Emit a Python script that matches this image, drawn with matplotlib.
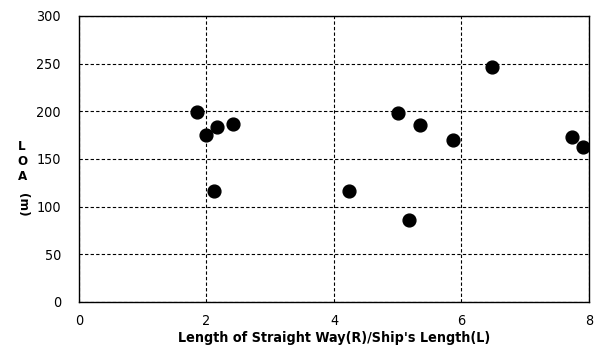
import matplotlib
matplotlib.use("Agg")
import matplotlib.pyplot as plt

ratio = [1.85, 2.00, 2.16, 2.41, 2.12, 4.24, 5.01, 5.35, 5.18, 5.86, 6.48, 7.74, 7.90]
loa = [199, 175, 184, 187, 116, 116, 198, 186, 86, 170, 246, 173, 163]
xticks = [0, 2, 4, 6, 8]
yticks = [0, 50, 100, 150, 200, 250, 300]

plt.rcParams['font.family'] = ['DejaVu Sans']
plt.rcParams['font.stretch'] = 'condensed'

fig = plt.figure(figsize=(5.97, 3.55), dpi=100)
ax = fig.add_axes([0.1323, 0.1493, 0.8543, 0.8057])
ax.scatter(ratio, loa, s=85, color='black', zorder=3)
ax.set_xlim(0, 8)
ax.set_ylim(0, 300)
ax.set_xticks(xticks)
ax.set_yticks(yticks)
for lab in ax.get_xticklabels() + ax.get_yticklabels():
    lab.set_fontstretch('condensed')
ax.tick_params(length=0, labelsize=10.3, pad=13)
ax.tick_params(axis='x', pad=9)
ax.grid(True, color='black', linestyle=(0, (3, 2)), linewidth=0.8)
for s in ax.spines.values():
    s.set_linewidth(1.0)
    s.set_color('black')
ax.set_xlabel("Length of Straight Way(R)/Ship's Length(L)", fontsize=10.3, fontweight='bold',
              fontstretch='condensed', labelpad=2)
fig.text(0.037, 0.544, "L\nO\nA", fontsize=9.5, fontweight='bold', ha='center', va='center',
         linespacing=1.2, fontstretch='condensed')
fig.text(0.037, 0.423, "(m)", fontsize=9.5, fontweight='bold', ha='center', va='center',
         rotation=-90, fontstretch='condensed')
fig.savefig("out.png", dpi=100)
